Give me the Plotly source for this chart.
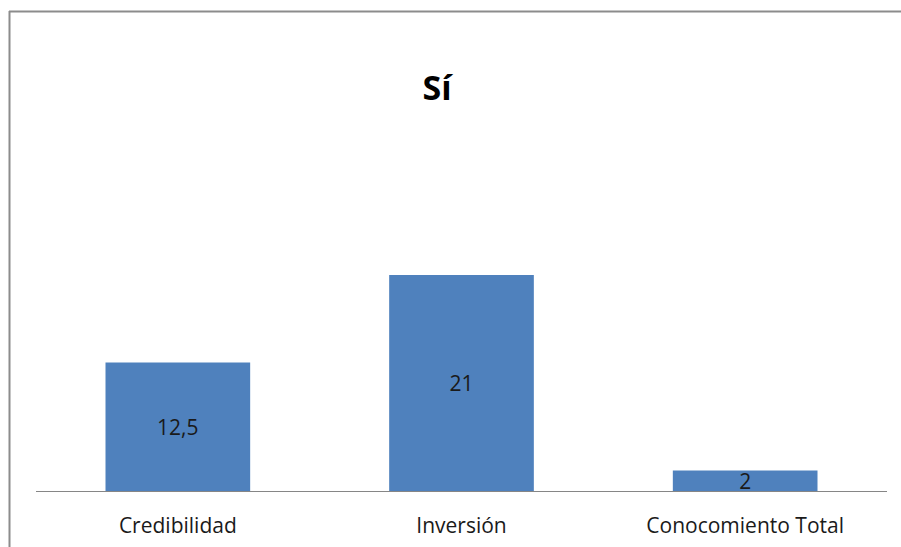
import plotly.graph_objects as go

categories = ["Credibilidad", "Inversión", "Conocomiento Total"]
values = [12.5, 21, 2]
value_labels = ["12,5", "21", "2"]
title_text = "Sí"

W, H = 901, 547
ML, MR, MT, MB = 36, 14, 234, 56
pw = W - ML - MR
ph = H - MT - MB

def px_x(p):
    return (p - ML) / pw

def px_y(p):
    return (H - MB - p) / ph

FONT = "Open Sans, Lato, sans-serif"

fig = go.Figure(go.Bar(
    x=categories, y=values, text=value_labels,
    textposition="inside", insidetextanchor="middle", textangle=0,
    constraintext="none",
    textfont=dict(family=FONT, size=21, color="#1a1a1a"),
    marker=dict(color="#4F81BD", line=dict(width=0)),
    cliponaxis=False,
))

fig.update_layout(
    width=W, height=H,
    margin=dict(l=ML, r=MR, t=MT, b=MB, autoexpand=False),
    paper_bgcolor="white", plot_bgcolor="white",
    bargap=0.49,
    showlegend=False,
    title=dict(text="<b>" + title_text + "</b>", x=437 / W, xref="container", xanchor="center",
               y=1 - 88 / H, yref="container", yanchor="middle",
               font=dict(family=FONT, size=34, color="#000000")),
    xaxis=dict(showline=True, linecolor="#868686", linewidth=1, ticks="", showgrid=False,
               automargin=False,
               tickfont=dict(family=FONT, size=21, color="#1a1a1a"),
               ticklabelstandoff=16),
    yaxis=dict(range=[0, 25], visible=False, showgrid=False, zeroline=False, automargin=False),
    shapes=[
        dict(type="line", xref="paper", yref="paper", x0=px_x(9.5), x1=px_x(9.5),
             y0=px_y(11), y1=px_y(H + 5), line=dict(color="#8c8c8c", width=2)),
        dict(type="line", xref="paper", yref="paper", x0=px_x(9), x1=px_x(W + 5),
             y0=px_y(11.5), y1=px_y(11.5), line=dict(color="#8c8c8c", width=2)),
    ],
)

fig.write_html("out.html")
